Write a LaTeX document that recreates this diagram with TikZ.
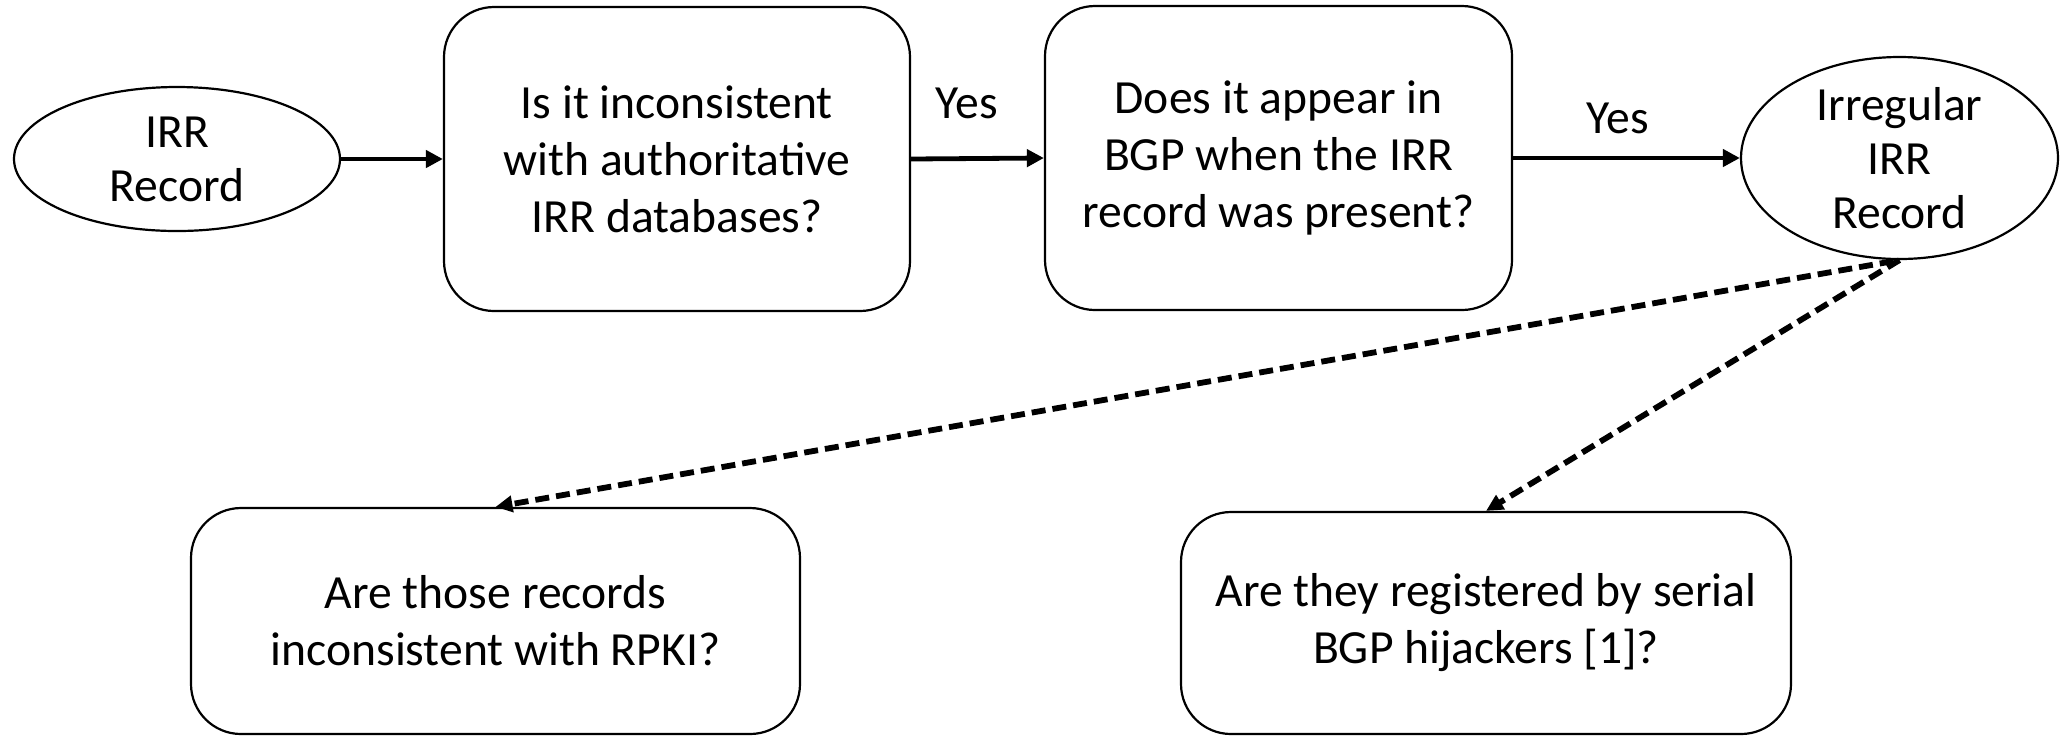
\documentclass[tikz,border=0pt]{standalone}
\usepackage{fontspec}
\setmainfont{Carlito}
\usetikzlibrary{arrows.meta,shapes.geometric}

\begin{document}
\begin{tikzpicture}[
  x=0.5pt, y=-0.5pt,
  every node/.style={font=\fontsize{23.8pt}{28.5pt}\selectfont, align=center, inner sep=0pt},
  oval/.style={draw, ellipse, line width=1.1pt, font=\fontsize{23.8pt}{27pt}\selectfont},
  qbox/.style={draw, rounded corners=25pt, line width=1.1pt},
  flow/.style={line width=2.4pt, -{Triangle[length=8.5pt,width=8.5pt]}},
  branch/.style={line width=2.9pt, dash pattern=on 7pt off 3.5pt,
                 -{Triangle[length=8.5pt,width=8pt]}},
  yeslbl/.style={}
]
\useasboundingbox (0,0) rectangle (2061,736);

% top row: record, the two checks, the outcome
\node[oval, minimum width=163pt, minimum height=72pt] (rec) at (177,159) {IRR\\Record};
\node[qbox, minimum width=233pt, minimum height=152pt] (q1) at (677,159)
  {Is it inconsistent\\with authoritative\\IRR databases?};
\node[qbox, minimum width=233.5pt, minimum height=152pt] (q2) at (1278.5,158)
  {Does it appear in\\BGP when the IRR\\record was present?};
\node[oval, minimum width=158.5pt, minimum height=101pt] (irr) at (1899.5,158)
  {Irregular\\IRR\\Record};

% bottom row: follow-up questions
\node[qbox, minimum width=304.5pt, minimum height=113pt] (q3) at (495.5,621)
  {Are those records\\inconsistent with RPKI?};
\node[qbox, minimum width=305pt, minimum height=111pt] (q4) at (1486,623)
  {Are they registered by serial\\BGP hijackers [1]?};

% answer labels
\node[yeslbl] (y1) at (967,103) {Yes};
\node[yeslbl] (y2) at (1618,118) {Yes};

% solid flow along the top row
\draw[flow] (rec.east) -- (q1.west);
\draw[flow] (q1.east) -- (q2.west);
\draw[flow] (q2.east |- irr.west) -- (irr.west);

% dashed branches to the follow-up questions
\draw[branch] (irr.south) ++(-6,1) coordinate (s1) (s1) -- (q3.north);
\draw[branch] (irr.south) -- (q4.north);
\end{tikzpicture}
\end{document}
